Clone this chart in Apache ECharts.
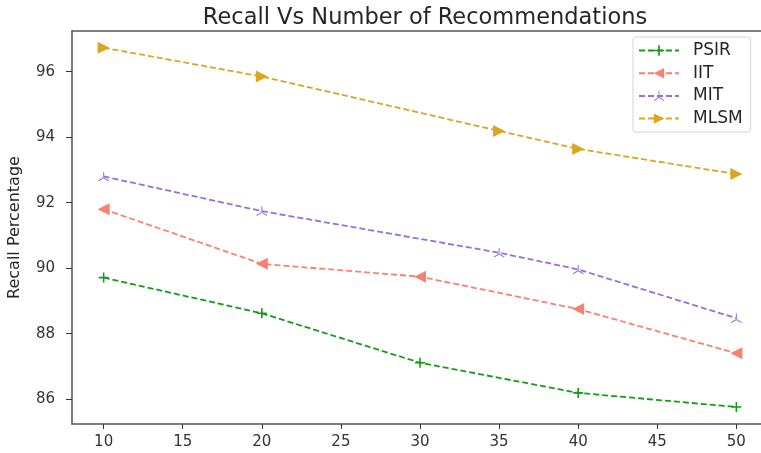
<!DOCTYPE html>
<html>
<head>
<meta charset="utf-8">
<script src="https://cdn.jsdelivr.net/npm/echarts@6/dist/echarts.min.js"></script>
<style>
  html, body { margin: 0; padding: 0; background: #fff; }
  #chart { width: 761px; height: 453px; }
</style>
</head>
<body>
<div id="chart"></div>
<script>
// Number of recommendations (x) for each method
const xPSIR = [10, 20, 30, 40, 50];
const xIIT  = [10, 20, 30, 40, 50];
const xMIT  = [10, 20, 35, 40, 50];
const xMLSM = [10, 20, 35, 40, 50];

// Recall percentage per method
const recallPSIR = [89.71, 88.62, 87.11, 86.19, 85.76];
const recallIIT  = [91.80, 90.13, 89.74, 88.75, 87.40];
const recallMIT  = [92.80, 91.74, 90.47, 89.96, 88.47];
const recallMLSM = [96.73, 95.85, 94.19, 93.64, 92.87];

const seriesNames = ['PSIR', 'IIT', 'MIT', 'MLSM'];
const xTicks = [10, 15, 20, 25, 30, 35, 40, 45, 50];
const yTicks = [86, 88, 90, 92, 94, 96];

// Marker shapes
const plusPath = 'path://M4.2,0H5.8V10H4.2Z M0,4.2H10V5.8H0Z';
const triUpPath = 'path://M-0.8,0L-0.8,-10L0.8,-10L0.8,0Z ' +
  'M0.4,0.69L-8.26,5.69L-9.06,4.31L-0.4,-0.69Z ' +
  'M-0.4,0.69L8.26,5.69L9.06,4.31L0.4,-0.69Z';
const leftTriPath = 'path://M0,5L10,0L10,10Z';
const rightTriPath = 'path://M10,5L0,0L0,10Z';

function pairs(xs, ys) { return xs.map((x, i) => [x, ys[i]]); }

function lineSeries(name, xs, ys, color, symbol, size) {
  return {
    name: name,
    type: 'line',
    data: pairs(xs, ys),
    symbol: symbol,
    symbolSize: size,
    symbolKeepAspect: true,
    showAllSymbol: true,
    itemStyle: { color: color },
    lineStyle: { color: color, width: 1.8, type: [6, 3] },
    emphasis: { disabled: true },
    animation: false
  };
}

const chart = echarts.init(document.getElementById('chart'), null, { renderer: 'canvas' });
const font = 'DejaVu Sans';
const spine = { show: true, lineStyle: { color: '#555', width: 1.5 } };

chart.setOption({
  backgroundColor: '#fff',
  animation: false,
  textStyle: { fontFamily: font },
  title: {
    text: 'Recall Vs Number of Recommendations',
    left: 420,
    top: 2,
    textAlign: 'center',
    textStyle: { fontFamily: font, fontSize: 22.5, fontWeight: 'normal', color: '#262626' }
  },
  legend: {
    data: seriesNames,
    orient: 'vertical',
    left: 633,
    top: 37,
    itemWidth: 40,
    itemHeight: 13,
    itemGap: 5.7,
    padding: [5, 8, 5, 5],
    borderColor: '#d5d5d5',
    borderWidth: 1,
    borderRadius: 3,
    backgroundColor: '#fff',
    textStyle: { fontFamily: font, fontSize: 17, color: '#262626', padding: [0, 0, 0, 9] }
  },
  grid: {
    left: 72, top: 31, width: 696, height: 393,
    outerBoundsMode: 'none', containLabel: false,
    show: false
  },
  xAxis: [{
    type: 'value',
    min: 8,
    max: 52,
    axisLine: spine,
    axisTick: { show: true, length: 5, inside: false, customValues: xTicks, lineStyle: { color: '#333' } },
    axisLabel: { customValues: xTicks, fontFamily: font, fontSize: 15, color: '#333', margin: 11 },
    splitLine: { show: false }
  }, {
    // top frame line
    type: 'value',
    position: 'top',
    min: 8,
    max: 52,
    axisLine: spine,
    axisTick: { show: false },
    axisLabel: { show: false },
    splitLine: { show: false }
  }],
  yAxis: {
    type: 'value',
    min: 85.24,
    max: 97.24,
    name: 'Recall Percentage',
    nameLocation: 'middle',
    nameGap: 49,
    nameRotate: 90,
    nameTextStyle: { fontFamily: font, fontSize: 16, color: '#262626' },
    axisLine: spine,
    axisTick: { show: true, length: 6, customValues: yTicks, lineStyle: { color: '#333' } },
    axisLabel: { customValues: yTicks, fontFamily: font, fontSize: 15, color: '#333', margin: 17 },
    splitLine: { show: false }
  },
  series: [
    lineSeries('PSIR', xPSIR, recallPSIR, '#169b16', plusPath, 10),
    lineSeries('IIT', xIIT, recallIIT, '#fa8072', leftTriPath, 12),
    lineSeries('MIT', xMIT, recallMIT, '#9370db', triUpPath, 11),
    lineSeries('MLSM', xMLSM, recallMLSM, '#daa520', rightTriPath, 12)
  ]
});
</script>
</body>
</html>
